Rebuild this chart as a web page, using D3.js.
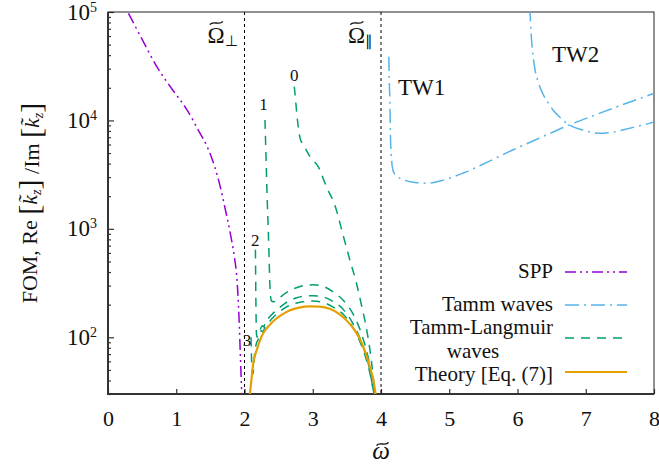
<!DOCTYPE html>
<html>
<head>
<meta charset="utf-8">
<script src="https://cdn.jsdelivr.net/npm/d3@7"></script>
<style>
  body { margin: 0; background: #fff; }
  text { font-family: "Liberation Serif", serif; fill: #111; }
</style>
</head>
<body>
<div id="wrapper"></div>
<script>
const xTicks = [0, 1, 2, 3, 4, 5, 6, 7, 8]
const yTicks = [1e2, 1e3, 1e4, 1e5]
const yTickExp = ["2", "3", "4", "5"]
const markerX = [2, 4]

const sppX = [0.30, 0.50, 0.72, 0.95, 1.16, 1.32, 1.455, 1.56, 1.645, 1.72, 1.79, 1.85, 1.89, 1.92, 1.94, 1.96]
const sppY = [97000, 56000, 31000, 19000, 12460, 8200, 5690, 3800, 2440, 1500, 920, 560, 340, 150, 66, 30]

const tw1X = [4.115, 4.12, 4.13, 4.14, 4.155, 4.17, 4.2, 4.25, 4.35, 4.5, 4.67, 4.9, 5.2, 5.55, 5.93, 6.35, 6.76, 7.1, 7.39, 7.7, 8.0]
const tw1Y = [38600, 25000, 15400, 6600, 4320, 3600, 3200, 3000, 2800, 2680, 2640, 2800, 3260, 4100, 5340, 7000, 9080, 11000, 12900, 15200, 17750]

const tw2X = [6.18, 6.2, 6.25, 6.3, 6.37, 6.45, 6.52, 6.62, 6.76, 6.96, 7.2, 7.4, 7.54, 7.75, 7.93, 8.0]
const tw2Y = [110000, 63000, 31200, 23000, 17700, 14500, 12500, 10700, 9080, 8170, 7600, 7800, 8170, 8800, 9400, 9700]

const tl0X = [2.73, 2.75, 2.766, 2.79, 2.815, 2.85, 2.89, 2.96, 3.08, 3.2, 3.33, 3.45, 3.55, 3.64, 3.72, 3.79, 3.86, 3.91]
const tl0Y = [20500, 15000, 11600, 8500, 6840, 6100, 5540, 4630, 3750, 2455, 1610, 851, 500, 317, 190, 118, 60, 30]

const tl1X = [2.30, 2.31, 2.32, 2.335, 2.35, 2.362, 2.372, 2.385, 2.40, 2.43, 2.5, 2.6, 2.75, 2.9, 3.0, 3.15, 3.3, 3.45, 3.6, 3.72, 3.82, 3.9, 3.93]
const tl1Y = [10100, 6000, 3500, 1700, 915, 500, 300, 230, 215, 213, 228, 255, 285, 302, 305, 295, 262, 218, 160, 105, 62, 32, 25]

const tl2X = [2.16, 2.163, 2.166, 2.17, 2.175, 2.185, 2.2, 2.23, 2.26, 2.28, 2.31, 2.35, 2.4, 2.5, 2.6, 2.75, 2.9, 3.0, 3.15, 3.3, 3.45, 3.6, 3.72, 3.82, 3.9, 3.93]
const tl2Y = [642, 400, 239, 150, 108, 100, 108, 118, 128, 125, 140, 150, 162, 185, 207, 230, 241, 242, 236, 213, 180, 130, 88, 55, 30, 25]

const tl3X = [2.095, 2.1, 2.105, 2.115, 2.125, 2.15, 2.18, 2.2, 2.22, 2.25, 2.27, 2.3, 2.35, 2.4, 2.5, 2.6, 2.75, 2.9, 3.0, 3.15, 3.3, 3.45, 3.6, 3.72, 3.82, 3.9, 3.93]
const tl3Y = [100, 75, 58, 48, 46, 72, 90, 95, 108, 115, 112, 125, 135, 148, 170, 188, 206, 215, 216, 210, 190, 162, 120, 82, 52, 30, 25]

const thX = [2.08, 2.1, 2.13, 2.19, 2.25, 2.35, 2.45, 2.55, 2.65, 2.8, 2.95, 3.1, 3.25, 3.4, 3.52, 3.64, 3.72, 3.79, 3.85, 3.886, 3.92]
const thY = [30, 40, 58, 80, 102, 126, 146, 162, 176, 188, 193, 192, 183, 162, 138, 110, 88, 67, 50, 41, 30]

const branchLabels = ["0", "1", "2", "3"]
const branchLabelX = [2.73, 2.28, 2.156, 2.035]
const branchLabelY = [23200, 12470, 700, 84]

const legendLabels = ["SPP", "Tamm waves", "Tamm-Langmuir", "Theory [Eq. (7)]"]

const zip = (xs, ys) => xs.map((x, i) => [x, ys[i]])

// small tilde accent drawn as a path, centred on (cx, cy)
const tildePath = (cx, cy, w) =>
  `M${cx - w},${cy + 1.6}C${cx - w / 2},${cy - 3.2} ${cx + w / 2},${cy + 3.2} ${cx + w},${cy - 1.6}`

function drawChart() {
  let dimensions = {
    width: 659,
    height: 465,
    margin: { top: 12, right: 5, bottom: 71, left: 108 },
  }
  dimensions.boundedWidth = dimensions.width - dimensions.margin.left - dimensions.margin.right
  dimensions.boundedHeight = dimensions.height - dimensions.margin.top - dimensions.margin.bottom

  const wrapper = d3.select("#wrapper")
    .append("svg")
    .attr("width", dimensions.width)
    .attr("height", dimensions.height)

  const bounds = wrapper.append("g")
    .attr("transform", `translate(${dimensions.margin.left},${dimensions.margin.top})`)

  const xScale = d3.scaleLinear()
    .domain([0, 8])
    .range([0, dimensions.boundedWidth])
  const yScale = d3.scaleLog()
    .domain([30, 1e5])
    .range([dimensions.boundedHeight, 0])

  bounds.append("clipPath").attr("id", "clip")
    .append("rect")
    .attr("width", dimensions.boundedWidth)
    .attr("height", dimensions.boundedHeight)

  // axes
  const xAxis = bounds.append("g")
    .attr("transform", `translate(0,${dimensions.boundedHeight})`)
    .call(d3.axisBottom(xScale).tickValues(xTicks).tickSize(-5).tickFormat(d3.format("d")))
  xAxis.select(".domain").remove()
  xAxis.selectAll("text").attr("y", 32).attr("dy", 0).style("font-size", "22px")
  xAxis.selectAll("line").attr("stroke", "#333").attr("stroke-width", 1.2)

  const minorY = []
  for (let e = 1; e < 5; e++) for (let m = 2; m < 10; m++) {
    const v = m * Math.pow(10, e)
    if (v >= 30 && v <= 1e5) minorY.push(v)
  }
  const yMinor = bounds.append("g")
    .call(d3.axisLeft(yScale).tickValues(minorY).tickSize(-3).tickFormat(""))
  yMinor.select(".domain").remove()
  yMinor.selectAll("line").attr("stroke", "#333").attr("stroke-width", 1.2)

  const yAxis = bounds.append("g")
    .call(d3.axisLeft(yScale).tickValues(yTicks).tickSize(-6).tickFormat(""))
  yAxis.select(".domain").remove()
  yAxis.selectAll("line").attr("stroke", "#333").attr("stroke-width", 1.2)
  yAxis.selectAll(".tick").each(function (d, i) {
    const t = d3.select(this).append("text")
      .attr("x", -11).attr("y", 7)
      .attr("text-anchor", "end")
      .style("font-size", "23px")
      .attr("fill", "#111")
    t.append("tspan").text("10")
    t.append("tspan").attr("dy", -8).style("font-size", "14px").text(yTickExp[i])
  })

  // frame
  bounds.append("rect")
    .attr("width", dimensions.boundedWidth)
    .attr("height", dimensions.boundedHeight)
    .attr("fill", "none")
    .attr("stroke", "#222")
    .attr("stroke-width", 1)
  bounds.append("path")
    .attr("d", `M0,0V${dimensions.boundedHeight}H${dimensions.boundedWidth}`)
    .attr("fill", "none")
    .attr("stroke", "#333")
    .attr("stroke-width", 2)

  // marker lines
  bounds.selectAll(".marker")
    .data(markerX)
    .enter().append("line")
    .attr("x1", d => xScale(d)).attr("x2", d => xScale(d))
    .attr("y1", 0).attr("y2", dimensions.boundedHeight)
    .attr("stroke", "#000")
    .attr("stroke-width", 1)
    .attr("stroke-dasharray", "3,3")

  const lineGenerator = d3.line()
    .x(d => xScale(d[0]))
    .y(d => yScale(d[1]))
    .curve(d3.curveMonotoneX)

  const series = [
    { pts: zip(sppX, sppY), color: "#9400d3", dash: "11,4,2,4,2,4", w: 1.5 },
    { pts: zip(tw1X, tw1Y), color: "#56b4e9", dash: "14,5,2,5", w: 1.5 },
    { pts: zip(tw2X, tw2Y), color: "#56b4e9", dash: "14,5,2,5", w: 1.5 },
    { pts: zip(tl0X, tl0Y), color: "#009e73", dash: "9,7", w: 1.5 },
    { pts: zip(tl1X, tl1Y), color: "#009e73", dash: "9,7", w: 1.5 },
    { pts: zip(tl2X, tl2Y), color: "#009e73", dash: "9,7", w: 1.5 },
    { pts: zip(tl3X, tl3Y), color: "#009e73", dash: "9,7", w: 1.5 },
    { pts: zip(thX, thY), color: "#e69f00", dash: null, w: 2.2 },
  ]

  const plot = bounds.append("g").attr("clip-path", "url(#clip)")
  plot.selectAll(".curve")
    .data(series)
    .enter().append("path")
    .attr("d", d => lineGenerator(d.pts))
    .attr("fill", "none")
    .attr("stroke", d => d.color)
    .attr("stroke-width", d => d.w)
    .attr("stroke-dasharray", d => d.dash)

  // branch labels
  bounds.selectAll(".branch")
    .data(branchLabels)
    .enter().append("text")
    .attr("x", (d, i) => xScale(branchLabelX[i]))
    .attr("y", (d, i) => yScale(branchLabelY[i]))
    .attr("text-anchor", "middle")
    .style("font-size", "17px")
    .text(d => d)

  // Omega labels
  const omega = (x, sub) => {
    const t = bounds.append("text")
      .attr("x", x).attr("y", 31)
      .style("font-size", "23px")
    t.append("tspan").text("Ω")
    t.append("tspan").attr("dy", 3).style("font-size", "15px").text(sub)
    bounds.append("path")
      .attr("d", tildePath(x + 8.8, 11, 6.5))
      .attr("fill", "none")
      .attr("stroke", "#111")
      .attr("stroke-width", 1.3)
  }
  omega(xScale(2) - 37, "⊥")
  omega(xScale(4) - 33, "∥")

  bounds.append("text").attr("x", 290).attr("y", 83).style("font-size", "23px").text("TW1")
  bounds.append("text").attr("x", 444).attr("y", 50).style("font-size", "23px").text("TW2")

  // legend
  const legendRight = 445
  const legendY = [260, 293, 326, 360]
  const legendDy = [6, 5.5, -4, 9]
  const legend = bounds.append("g")
  series.filter((d, i) => [0, 1, 3, 7].includes(i)).forEach((s, i) => {
    legend.append("line")
      .attr("x1", legendRight + 12).attr("x2", legendRight + 74)
      .attr("y1", legendY[i]).attr("y2", legendY[i])
      .attr("stroke", s.color)
      .attr("stroke-width", s.w)
      .attr("stroke-dasharray", s.dash)
    legend.append("text").attr("x", legendRight).attr("y", legendY[i] + legendDy[i])
      .attr("text-anchor", "end").style("font-size", "21px").text(legendLabels[i])
    if (i === 2) {
      legend.append("text").attr("x", legendRight - 80).attr("y", legendY[i] + 19.6)
        .attr("text-anchor", "middle").style("font-size", "21px").text("waves")
    }
  })

  // x label
  const xc = dimensions.margin.left + xScale(4)
  wrapper.append("text")
    .attr("x", xc).attr("y", 459)
    .attr("text-anchor", "middle")
    .style("font-size", "25px").style("font-style", "italic")
    .text("ω")
  wrapper.append("path")
    .attr("d", tildePath(xc + 1.5, 444, 6))
    .attr("fill", "none")
    .attr("stroke", "#111")
    .attr("stroke-width", 1.3)

  // y label
  const yl = wrapper.append("text")
    .attr("transform", `translate(37,${dimensions.margin.top + dimensions.boundedHeight / 2}) rotate(-90)`)
    .attr("text-anchor", "middle")
    .style("font-size", "22px")
  const kz = () => {
    yl.append("tspan").style("font-size", "30px").attr("dy", 2).text("[")
    yl.append("tspan").attr("dy", -2).style("font-style", "italic").text("k̃")
    yl.append("tspan").attr("dy", 4).style("font-size", "14px").style("font-style", "italic").text("z")
    yl.append("tspan").attr("dy", -2).style("font-size", "30px").text("]")
    yl.append("tspan").attr("dy", -2).text("")
  }
  yl.append("tspan").text("FOM, Re ")
  kz()
  yl.append("tspan").text(" /Im ")
  kz()
}

drawChart()
</script>
</body>
</html>
